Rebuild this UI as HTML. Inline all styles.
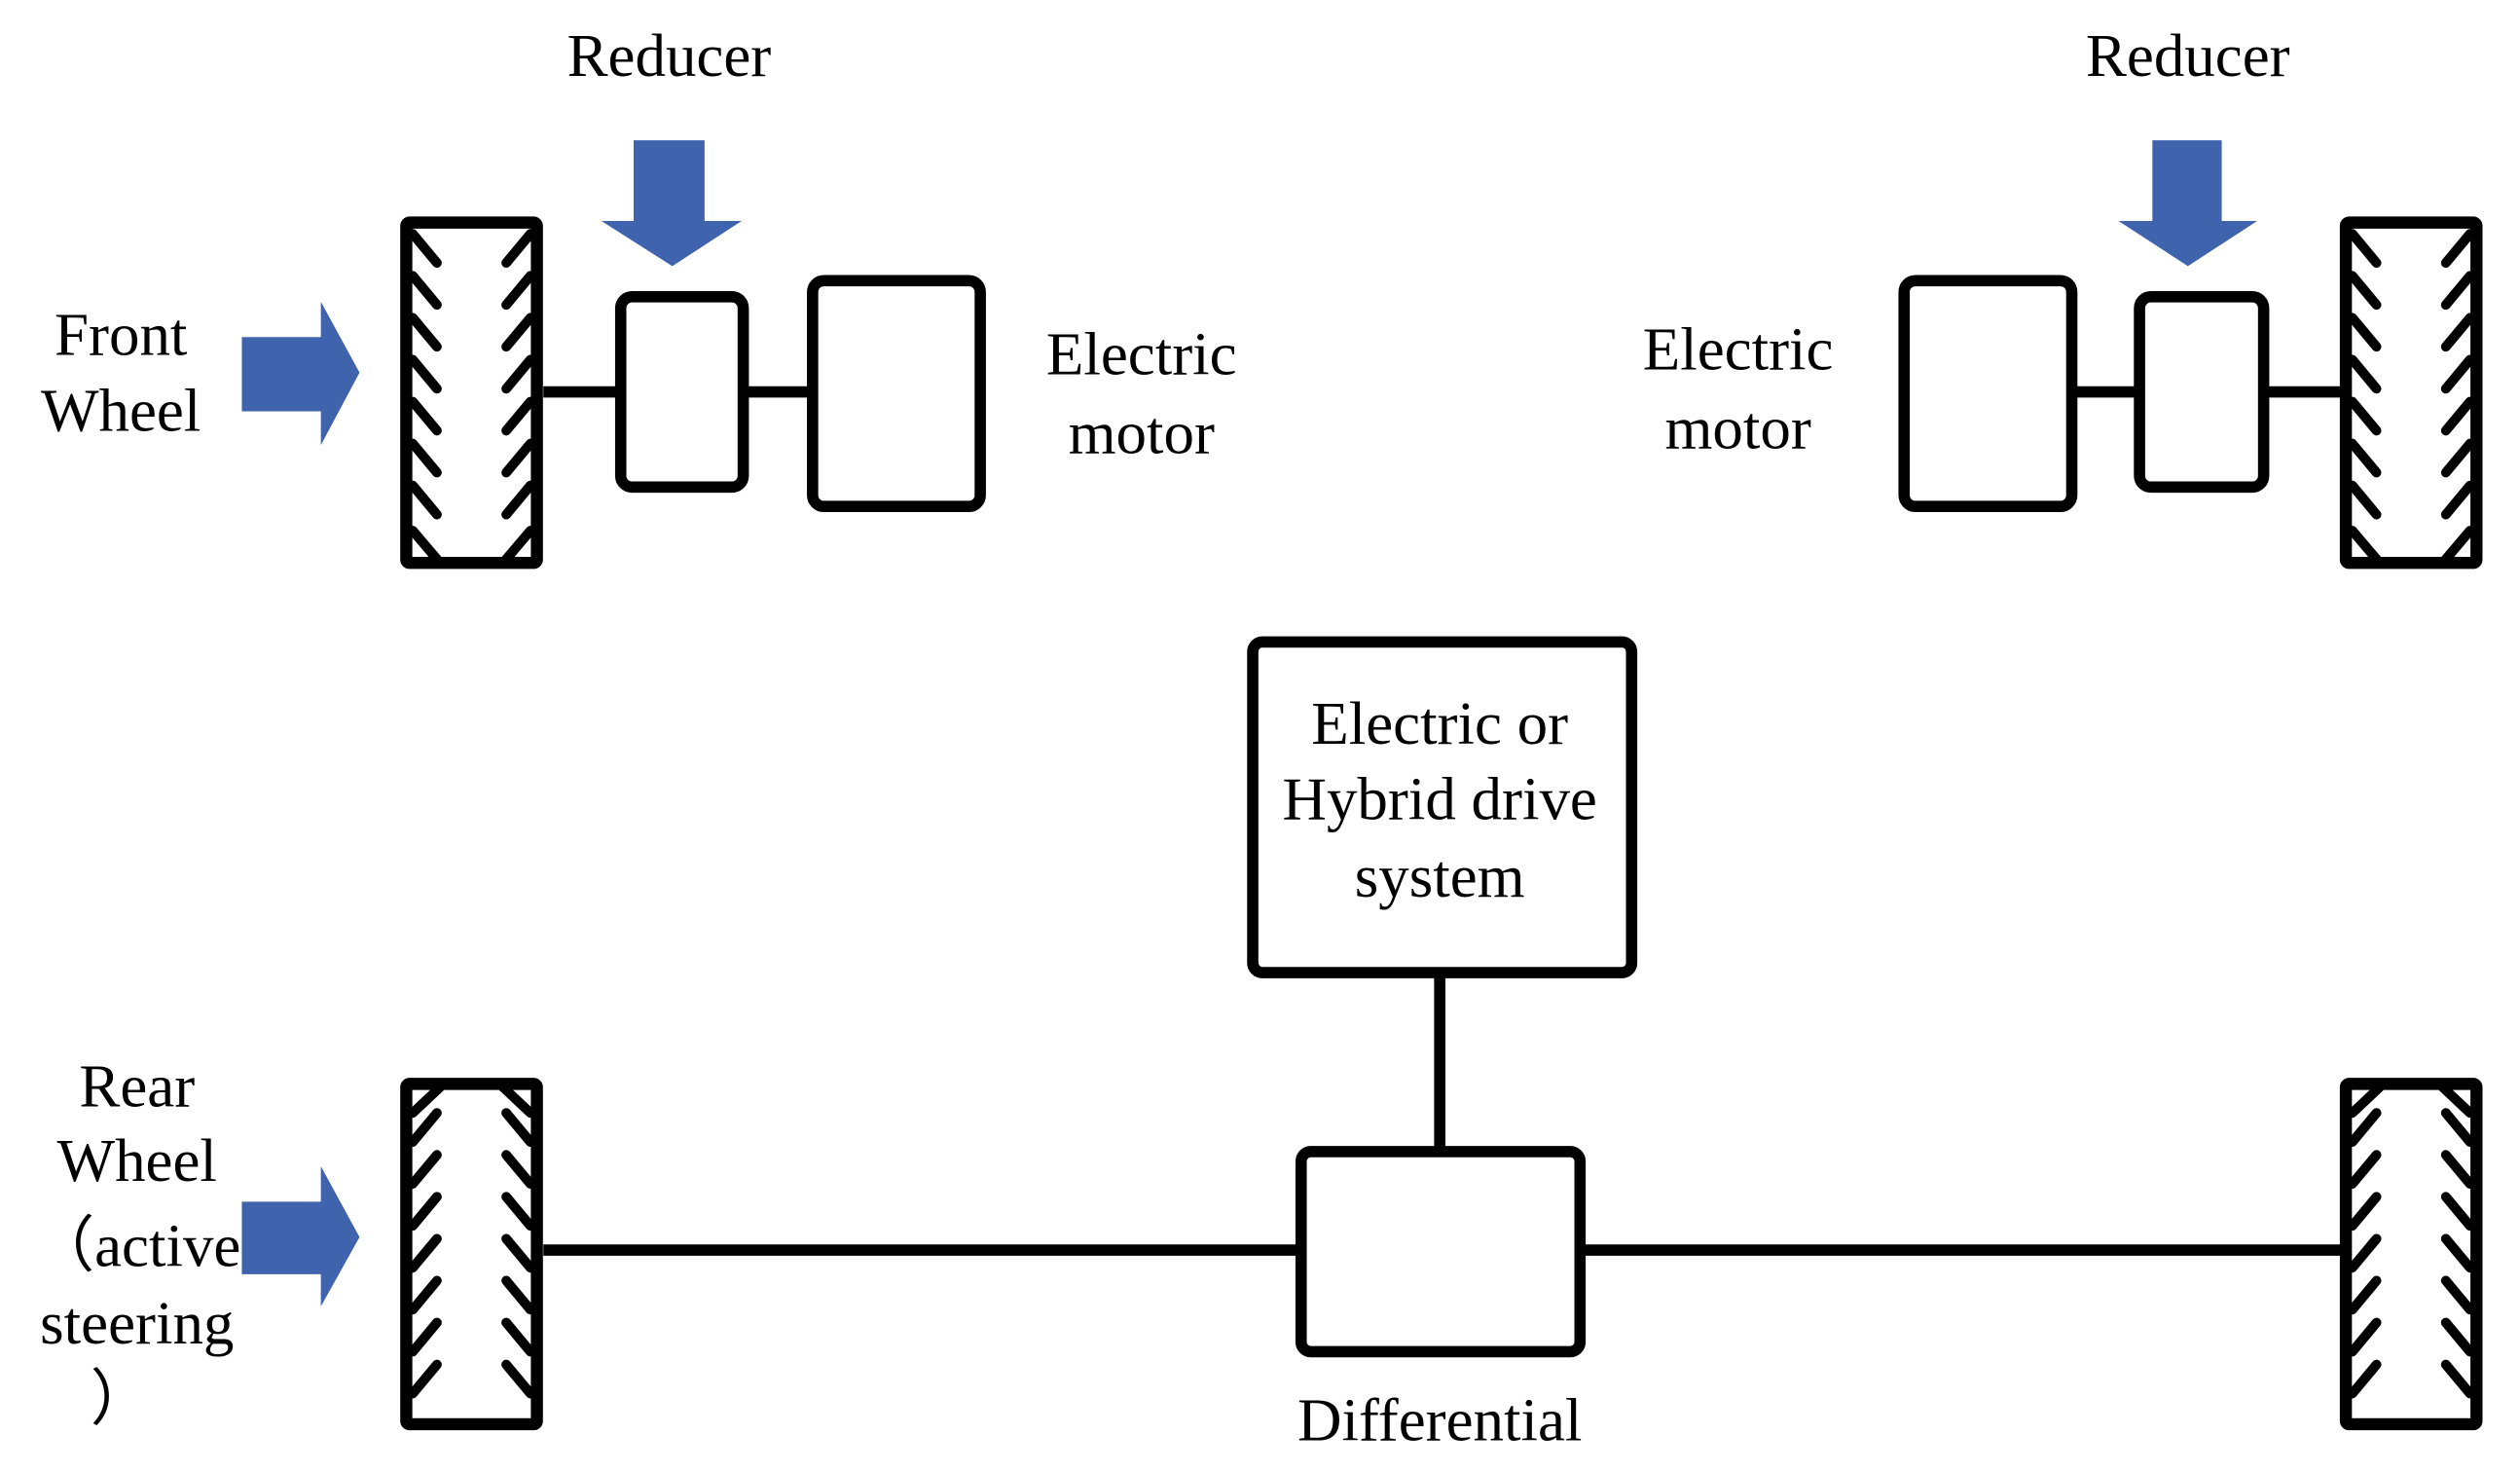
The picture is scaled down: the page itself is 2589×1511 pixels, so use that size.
<!DOCTYPE html>
<html><head><style>html,body{margin:0;padding:0;background:#fff;}svg{display:block;}</style></head>
<body>
<svg width="2589" height="1511" viewBox="0 0 1563 912" preserveAspectRatio="none" xmlns="http://www.w3.org/2000/svg">
<defs>
<g id="hd">
 <path d="M256,145 L271,163 M256,171 L271,189 M256,197 L271,215 M256,223 L271,241 M256,249 L271,267 M256,275 L271,293 M256,301 L271,319 M256,329 L273,349
 M329,145 L314,163 M329,171 L314,189 M329,197 L314,215 M329,223 L314,241 M329,249 L314,267 M329,275 L314,293 M329,301 L314,319 M329,329 L312,349" stroke="#000" stroke-width="6" stroke-linecap="round" fill="none"/>
 <rect x="252" y="138" width="81" height="211" rx="2" fill="none" stroke="#000" stroke-width="7.5"/>
</g>
<g id="hu">
 <path d="M256,864 L271,846 M256,838 L271,820 M256,812 L271,794 M256,786 L271,768 M256,760 L271,742 M256,734 L271,716 M256,708 L271,690 M256,690 L273,674
 M329,864 L314,846 M329,838 L314,820 M329,812 L314,794 M329,786 L314,768 M329,760 L314,742 M329,734 L314,716 M329,708 L314,690 M329,690 L312,674" stroke="#000" stroke-width="6" stroke-linecap="round" fill="none"/>
 <rect x="252" y="672" width="81" height="211" rx="2" fill="none" stroke="#000" stroke-width="7.5"/>
</g>
</defs>
<g font-family="'Liberation Serif', serif" font-size="38" fill="#000" text-anchor="middle">
<text x="415" y="47">Reducer</text>
<text x="1357" y="47">Reducer</text>
<text x="75" y="220">Front</text><text x="75" y="267">Wheel</text>
<text x="708" y="232">Electric</text><text x="708" y="281">motor</text>
<text x="1078" y="229">Electric</text><text x="1078" y="278">motor</text>
<text x="893" y="461">Electric or</text><text x="893" y="508">Hybrid drive</text><text x="893" y="556">system</text>
<text x="893" y="893">Differential</text>
<text x="85" y="686">Rear</text><text x="85" y="732">Wheel</text>
<text x="85" y="785">（active</text><text x="85" y="833">steering</text><text x="75" y="880">）</text>
</g>
<g fill="#4063AD">
<polygon points="393,87 437,87 437,137 460,137 417,165 373,137 393,137"/>
<polygon points="1335,87 1378,87 1378,137 1400,137 1357,165 1314,137 1335,137"/>
<polygon points="150,209 199,209 199,187 223,231 199,276 199,255 150,255"/>
<polygon points="150,745 199,745 199,723 223,767 199,810 199,790 150,790"/>
</g>
<g stroke="#000" stroke-width="7" fill="none">
<line x1="337" y1="243" x2="385" y2="243"/><line x1="461" y1="243" x2="504" y2="243"/>
<line x1="1285" y1="243" x2="1327" y2="243"/><line x1="1404" y1="243" x2="1452" y2="243"/>
<line x1="893" y1="603" x2="893" y2="714"/>
<line x1="337" y1="775" x2="807" y2="775"/><line x1="980" y1="775" x2="1452" y2="775"/>
<rect x="385" y="184" width="76" height="118" rx="7"/>
<rect x="504" y="174" width="104" height="140" rx="7"/>
<rect x="1181" y="174" width="104" height="140" rx="7"/>
<rect x="1327" y="184" width="77" height="118" rx="7"/>
<rect x="777" y="398" width="235" height="205" rx="6"/>
<rect x="807" y="714" width="173" height="124" rx="6"/>
</g>
<use href="#hd"/>
<use href="#hd" transform="translate(1203,0)"/>
<use href="#hu"/>
<use href="#hu" transform="translate(1203,0)"/>
</svg>
</body></html>
